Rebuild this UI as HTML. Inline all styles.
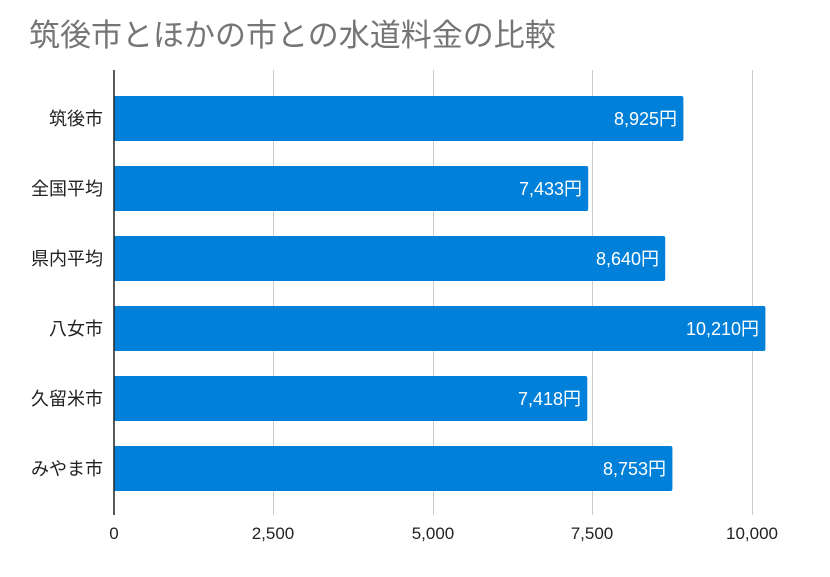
<!DOCTYPE html>
<html><head><meta charset="utf-8"><style>
body{margin:0;background:#fff;}
svg text{font-family:"Liberation Sans","Noto Sans CJK JP",sans-serif;}
</style></head><body>
<svg width="830" height="572" xmlns="http://www.w3.org/2000/svg">
<rect width="830" height="572" fill="#fff"/>
<text x="29" y="46" font-size="31" fill="#757575">筑後市とほかの市との水道料金の比較</text>
<g stroke="#cccccc" stroke-width="1">
<line x1="273.5" y1="70" x2="273.5" y2="515"/>
<line x1="433.5" y1="70" x2="433.5" y2="515"/>
<line x1="592.5" y1="70" x2="592.5" y2="515"/>
<line x1="752.5" y1="70" x2="752.5" y2="515"/>
</g>
<g fill="#0080d9">
<rect x="114" y="96" width="569.4" height="45" rx="2"/>
<rect x="114" y="166" width="474.2" height="45" rx="2"/>
<rect x="114" y="236" width="551.2" height="45" rx="2"/>
<rect x="114" y="306" width="651.4" height="45" rx="2"/>
<rect x="114" y="376" width="473.3" height="45" rx="2"/>
<rect x="114" y="446" width="558.4" height="45" rx="2"/>
</g>
<line x1="114" y1="70" x2="114" y2="515" stroke="#222" stroke-width="1.5"/>
<g font-size="18" fill="#fff" text-anchor="end">
<text x="677" y="125">8,925円</text>
<text x="582" y="195">7,433円</text>
<text x="659" y="265">8,640円</text>
<text x="759" y="335">10,210円</text>
<text x="581" y="405">7,418円</text>
<text x="666" y="475">8,753円</text>
</g>
<g font-size="18" fill="#222" text-anchor="end">
<text x="103" y="125">筑後市</text>
<text x="103" y="195">全国平均</text>
<text x="103" y="265">県内平均</text>
<text x="103" y="335">八女市</text>
<text x="103" y="405">久留米市</text>
<text x="103" y="475">みやま市</text>
</g>
<g font-size="17" fill="#222" text-anchor="middle">
<text x="114" y="539">0</text>
<text x="273" y="539">2,500</text>
<text x="433" y="539">5,000</text>
<text x="592" y="539">7,500</text>
<text x="752" y="539">10,000</text>
</g>
</svg>
</body></html>
